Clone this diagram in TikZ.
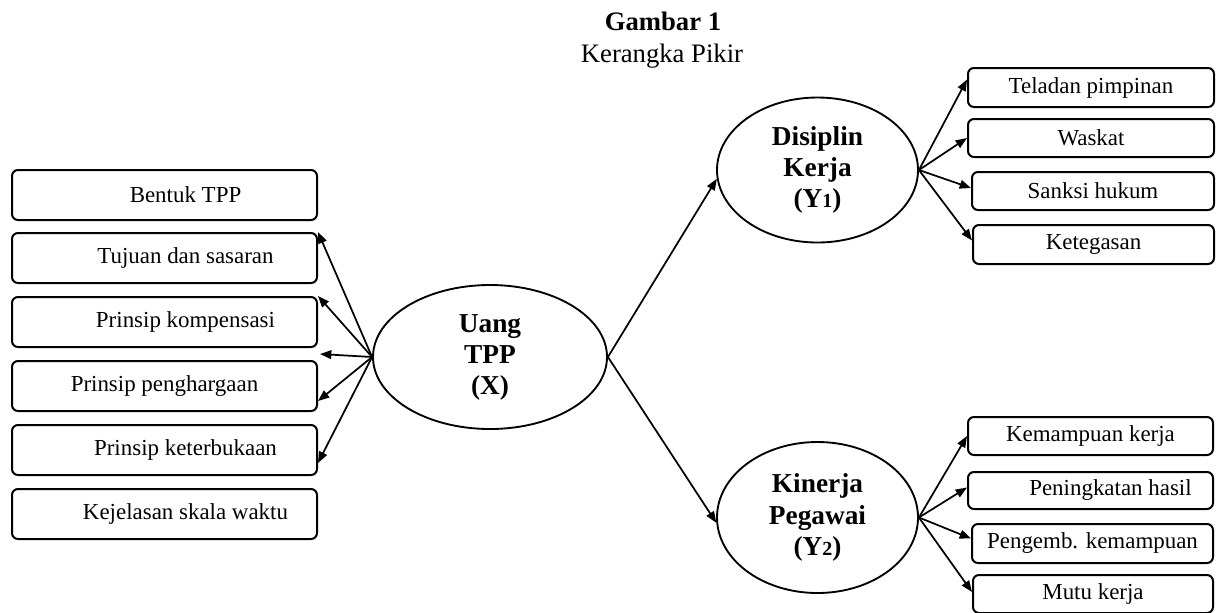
\documentclass[tikz,border=0pt]{standalone}
\usepackage{fontspec}
\setmainfont{Liberation Serif}
\usetikzlibrary{arrows.meta,calc,shapes.geometric}
\tikzset{
  box/.style={draw, rounded corners=4.5pt, line width=1.5pt, inner sep=0pt,
    font=\fontsize{17.2}{20}\selectfont},
  lbox/.style={box, minimum width=228.75pt, minimum height=37.5pt},
  rbox/.style={box, minimum height=28.5pt},
  ell/.style={draw, ellipse, line width=1.4pt, inner sep=0pt, align=center,
    font=\fontsize{20.5}{23.4}\selectfont\bfseries},
  arr/.style={line width=1.3pt, -{Triangle[length=8.5pt,width=6.5pt]}},
  ttl/.style={anchor=base, font=\fontsize{20}{23}\selectfont}
}
\begin{document}
\begin{tikzpicture}[x=0.75pt,y=-0.75pt]
\useasboundingbox (0,0) rectangle (1217,612);
% title
\node[ttl, font=\fontsize{20}{23}\selectfont\bfseries] (t1) at (663,30) {Gambar 1};
\node[ttl] (t2) at (662,62) {Kerangka Pikir};
% left boxes
\node[lbox] (b1) at (164.5,195) {\hspace*{31.5pt}Bentuk TPP};
\node[lbox] (b2) at (164.5,258) {\hspace*{31.5pt}Tujuan dan sasaran};
\node[lbox] (b3) at (164.5,322) {\hspace*{31.5pt}Prinsip kompensasi};
\node[lbox] (b4) at (164.5,386) {Prinsip penghargaan};
\node[lbox] (b5) at (164.5,450) {\hspace*{31.5pt}Prinsip keterbukaan};
\node[lbox] (b6) at (164.5,514) {\hspace*{31.5pt}Kejelasan skala waktu};
% ellipses
\node[ell, minimum width=175.5pt, minimum height=108pt] (X) at (490,357)
  {\raisebox{-4pt}{\begin{tabular}{@{}c@{}}Uang\\TPP\\(X)\end{tabular}}};
\node[ell, minimum width=150.75pt, minimum height=108.75pt] (Y1) at (817.5,170)
  {Disiplin\\Kerja\\(Y{\fontsize{15}{15}\selectfont 1})};
\node[ell, minimum width=150.75pt, minimum height=113.25pt] (Y2) at (817.5,517.5)
  {Kinerja\\Pegawai\\(Y{\fontsize{15}{15}\selectfont 2})};
% right boxes
\node[rbox, minimum width=184.5pt, minimum height=29.25pt] (r1) at (1091,87.5) {Teladan pimpinan};
\node[rbox, minimum width=184.5pt] (r2) at (1091,138) {Waskat};
\node[rbox, minimum width=181.5pt] (r3) at (1093,191) {Sanksi hukum};
\node[rbox, minimum width=180.75pt, minimum height=29.25pt] (r4) at (1093.5,244.5) {Ketegasan};
\node[rbox, minimum width=183.75pt] (r5) at (1090.5,436) {Kemampuan kerja};
\node[rbox, minimum width=183.75pt, minimum height=27.75pt] (r6) at (1090.5,490.5) {\hspace*{30pt}Peningkatan hasil};
\node[rbox, minimum width=180.75pt, minimum height=29.25pt] (r7) at (1092.5,543.5) {Pengemb. kemampuan};
\node[rbox, minimum width=180pt] (r8) at (1093,594) {Mutu kerja};
% free end of horizontal arrow
\coordinate (h) at (320,354);
% arrows from X to left
\draw[arr] (X.west) -- (b2.north east);
\draw[arr] (X.west) -- (b3.north east);
\draw[arr] (X.west) -- (h);
\draw[arr] (X.west) -- ($(b4.south east)+(0,-11)$);
\draw[arr] (X.west) -- ($(b5.south east)+(0,-13)$);
% main arrows
\draw[arr] (X.east) -- (Y1.185);
\draw[arr] (X.east) -- (Y2.183);
% Y1 indicators
\draw[arr] (Y1.east) -- ($(r1.west)+(0,-8)$);
\draw[arr] (Y1.east) -- (r2.west);
\draw[arr] (Y1.east) -- ($(r3.west)+(0,-3)$);
\draw[arr] (Y1.east) -- ($(r4.west)+(0,-4)$);
% Y2 indicators
\draw[arr] (Y2.east) -- (r5.west);
\draw[arr] (Y2.east) -- ($(r6.west)+(0,-3)$);
\draw[arr] (Y2.east) -- ($(r7.west)+(0,-5)$);
\draw[arr] (Y2.east) -- ($(r8.west)+(0,-2)$);
\end{tikzpicture}
\end{document}
